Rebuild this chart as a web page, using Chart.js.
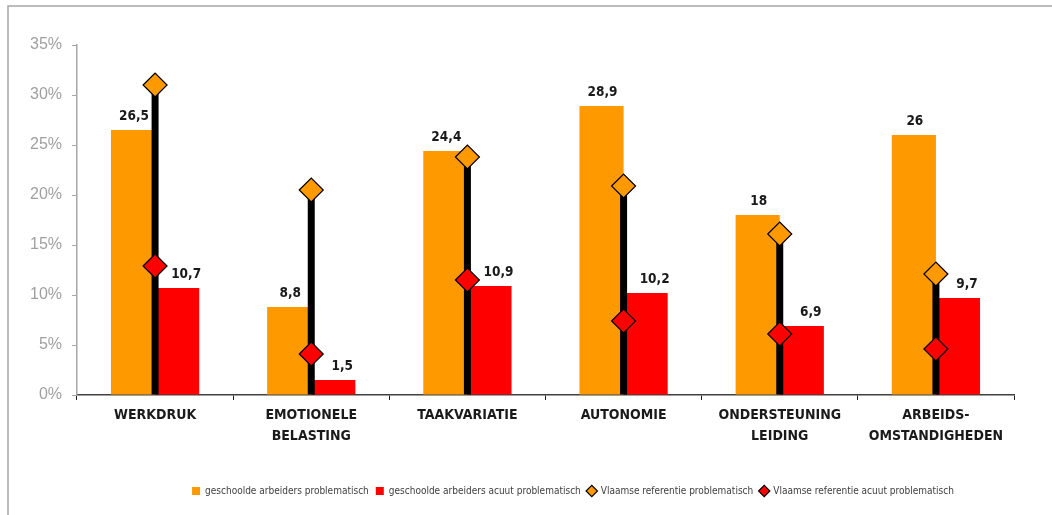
<!DOCTYPE html>
<html>
<head>
<meta charset="utf-8">
<script src="https://cdn.jsdelivr.net/npm/chart.js@4/dist/chart.umd.min.js"></script>
<style>
    html, body { margin: 0; padding: 0; background: #fff; }
    #wrap { width: 1052px; height: 515px; }
</style>
</head>
<body>
<div id="wrap"><canvas id="chart"></canvas></div>
<script>
// --------------------------------
// Data
// --------------------------------

const categories = [
    ['WERKDRUK'],
    ['EMOTIONELE', 'BELASTING'],
    ['TAAKVARIATIE'],
    ['AUTONOMIE'],
    ['ONDERSTEUNING', 'LEIDING'],
    ['ARBEIDS-', 'OMSTANDIGHEDEN']
];

const arbeidersProblematisch = [26.5, 8.8, 24.4, 28.9, 18, 26];
const arbeidersAcuut = [10.7, 1.5, 10.9, 10.2, 6.9, 9.7];
const vlaamsProblematisch = [31.0, 20.5, 23.8, 20.9, 16.1, 12.1];
const vlaamsAcuut = [12.9, 4.1, 11.5, 7.4, 6.1, 4.6];

const yTicks = [0, 5, 10, 15, 20, 25, 30, 35];

const narrow = "'DejaVu Sans Condensed', 'Liberation Sans Narrow', sans-serif";
const orange = '#FF9900';
const red = '#FF0000';

// stem from 0 up to the highest reference diamond
const stems = vlaamsProblematisch.map((v, i) => [0, Math.max(v, vlaamsAcuut[i])]);

// --------------------------------
// Plugins
// --------------------------------

const frame = {
    id: 'frame',
    beforeDraw(chart) {
        const ctx = chart.ctx;
        ctx.save();
        ctx.strokeStyle = '#a6a6a6';
        ctx.lineWidth = 1.5;
        ctx.beginPath();
        ctx.moveTo(8, chart.height);
        ctx.lineTo(8, 6);
        ctx.lineTo(chart.width, 6);
        ctx.stroke();
        ctx.restore();
    }
};

// legend in the original sits a bit right of centre
const legendShift = {
    id: 'legendShift',
    afterLayout(chart) {
        chart.legend.left += 66;
        chart.legend.right += 66;
    }
};

const valueLabels = {
    id: 'valueLabels',
    afterDatasetsDraw(chart) {
        const ctx = chart.ctx;
        ctx.save();
        ctx.font = 'bold 13.5px ' + narrow;
        ctx.fillStyle = '#1a1a1a';
        ctx.textAlign = 'center';
        ctx.textBaseline = 'alphabetic';
        [0, 1].forEach(di => {
            const meta = chart.getDatasetMeta(di);
            const shift = di === 1 ? 9 : 1;
            meta.data.forEach((bar, i) => {
                const v = chart.data.datasets[di].data[i];
                ctx.fillText(String(v).replace('.', ','), bar.x + shift, bar.y - 10);
            });
        });
        ctx.restore();
    }
};

// --------------------------------
// Chart
// --------------------------------

const chart = new Chart(document.getElementById('chart'), {
    data: {
        labels: categories,
        datasets: [{
            type: 'bar',
            label: 'geschoolde arbeiders problematisch',
            data: arbeidersProblematisch,
            backgroundColor: orange,
            pointStyle: 'rect',
            categoryPercentage: 0.565,
            barPercentage: 1,
            order: 3
        }, {
            type: 'bar',
            label: 'geschoolde arbeiders acuut problematisch',
            data: arbeidersAcuut,
            backgroundColor: red,
            pointStyle: 'rect',
            categoryPercentage: 0.565,
            barPercentage: 1,
            order: 3
        }, {
            type: 'line',
            label: 'Vlaamse referentie problematisch',
            data: vlaamsProblematisch,
            showLine: false,
            pointStyle: 'rectRot',
            pointRadius: 12,
            pointBackgroundColor: orange,
            pointBorderColor: '#000',
            pointBorderWidth: 1.2,
            backgroundColor: orange,
            borderColor: '#000',
            order: 0
        }, {
            type: 'line',
            label: 'Vlaamse referentie acuut problematisch',
            data: vlaamsAcuut,
            showLine: false,
            pointStyle: 'rectRot',
            pointRadius: 12,
            pointBackgroundColor: red,
            pointBorderColor: '#000',
            pointBorderWidth: 1.2,
            backgroundColor: red,
            borderColor: '#000',
            order: 0
        }, {
            type: 'bar',
            label: 'stem',
            data: stems,
            grouped: false,
            backgroundColor: '#000',
            maxBarThickness: 7,
            order: 1
        }]
    },
    options: {
        responsive: true,
        maintainAspectRatio: false,
        animation: false,
        layout: {
            padding: { left: 0, right: 38, top: 45, bottom: 9 }
        },
        plugins: {
            tooltip: { enabled: false },
            legend: {
                position: 'bottom',
                labels: {
                    usePointStyle: true,
                    boxWidth: 8,
                    boxHeight: 8,
                    padding: 7,
                    color: '#404040',
                    font: { family: narrow, size: 10 },
                    filter: item => item.text !== 'stem',
                    sort: (a, b) => a.datasetIndex - b.datasetIndex
                }
            }
        },
        scales: {
            x: {
                offset: true,
                afterFit: scale => { scale.height = 84; },
                grid: {
                    offset: true,
                    drawOnChartArea: false,
                    tickLength: 5,
                    color: '#222'
                },
                border: { color: '#404040', width: 1.5 },
                ticks: {
                    padding: 5,
                    maxRotation: 0,
                    minRotation: 0,
                    autoSkip: false,
                    color: '#1a1a1a',
                    font: { family: narrow, size: 14, weight: 'bold', lineHeight: 1.5 }
                }
            },
            y: {
                min: 0,
                max: 35,
                afterFit: scale => { scale.width = 77; },
                afterBuildTicks: scale => { scale.ticks = yTicks.map(v => ({ value: v })); },
                grid: {
                    drawOnChartArea: false,
                    tickLength: 5,
                    color: '#a6a6a6'
                },
                border: { color: '#a6a6a6', width: 1.5 },
                ticks: {
                    padding: 10,
                    color: '#a0a0a0',
                    font: { family: 'Liberation Sans, Arial, sans-serif', size: 16 },
                    callback: v => v + '%'
                }
            }
        }
    },
    plugins: [frame, legendShift, valueLabels]
});
</script>
</body>
</html>
